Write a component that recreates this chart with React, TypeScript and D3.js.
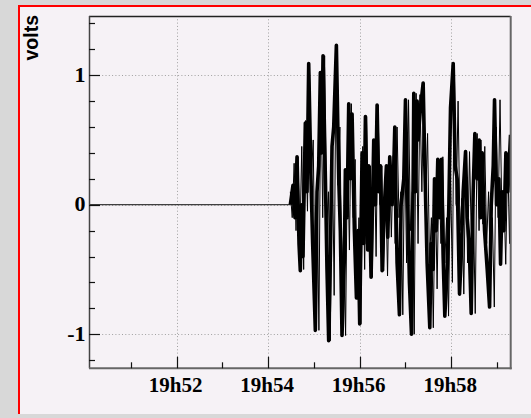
import React, { useEffect, useRef } from "react";
import * as d3 from "d3";

// time range of the frame (local time)
const day = [2000, 0, 1];
const timeStart = "19:50:05";
const timeEnd = "19:59:18";

// signal is flat (0 V) until signalStart
const signalStart = "19:54:29";

// slow wave: turning points, seconds after signalStart
const tSec = [
  0, 3.5, 6.1, 8.8, 11.4, 13.1, 14.9, 16.6, 19.7, 21.9,
  24.1, 27.1, 29.3, 32.8, 35.0, 37.2, 39.4, 41.1, 42.9, 46.0,
  48.1, 50.3, 52.5, 54.7, 56.9, 60.4, 63.5, 65.6, 67.8, 70.9,
  72.2, 74.4, 76.6, 78.8, 81.0, 84.0, 86.7, 88.8, 91.0, 94.1,
  96.3, 98.5, 101.5, 102.8, 105.9, 109.4, 111.6, 113.8, 116.0, 118.2,
  120.4, 123.4, 126.0, 127.8, 130.4, 133.5, 135.7, 137.0, 140.0, 143.1,
  145.3, 148.8, 151.0, 154.0, 156.2, 158.9, 161.1, 161.9, 164.1, 166.3,
  167.6, 170.7, 174.2, 176.4, 179.4, 182.9, 184.7, 187.3, 189.1, 191.2,
  193.4, 196.1, 198.2, 200.4, 202.6, 205.7, 207.9, 210.1, 213.6, 216.2,
  218.8, 221.9, 224.1, 226.7, 229.8, 231.9, 234.6, 237.2, 239.8, 242.0,
  245.1, 247.7, 249.5, 251.6, 254.7, 258.2, 261.3, 263.5, 266.1, 267.8,
  270.5, 273.5, 275.7, 277.9, 280.1, 282.7, 285.3, 288.8,
];
const volts = [
  0, 0.15, -0.1, 0.37, -0.3, -0.51, 0.0, -0.4, 0.63, 0.1,
  1.09, 0.2, -0.3, -0.97, 0.1, 0.3, 1.02, 0.4, 1.15, 0.2,
  -0.5, -1.05, -0.4, 0.45, 0.6, 1.23, 0.2, -0.2, -1.01, -0.4,
  0.27, -0.1, 0.78, 0.2, 0.7, -0.2, -0.72, -0.2, -0.92, 0.4,
  -0.3, 0.68, -0.35, 0.3, -0.56, 0.5, 0.0, 0.77, 0.1, 0.3,
  -0.51, 0.0, 0.3, -0.25, 0.37, 0.0, 0.3, 0.6, -0.45, -0.85,
  0.0, 0.2, 0.81, 0.0, -0.6, -1.0, 0.2, 0.86, 0.1, 0.8,
  0.5, 0.75, 0.94, 0.3, -0.45, -0.95, -0.3, -0.5, 0.2, -0.2,
  0.35, -0.1, 0.35, -0.4, -0.86, -0.5, 0.0, 0.75, 1.09, 0.3,
  0.2, -0.69, -0.4, 0.1, 0.41, -0.1, -0.3, -0.84, 0.1, 0.55,
  0.2, 0.5, -0.1, 0.4, -0.2, -0.5, -0.79, 0.0, 0.3, 0.81,
  0.0, 0.2, -0.46, 0.1, -0.2, 0.4, 0.1, 0.54,
];

// fast jitter: max / min in each 5 s column after signalStart
const stepSeconds = 5;
const hiVolts = [
  0.1, 0.32, 0.37, 0.45, 0.65, 1.09, 0.5, 0.2, 1.02, 1.15,
  0.1, 0.5, 1.23, 0.6, -0.2, 0.5, 0.78, 0.35, -0.1, 0.45,
  0.68, 0.3, 0.5, 0.77, 0.3, 0.2, 0.37, 0.38, 0.6, 0.1,
  0.5, 0.81, 0.1, 0.86, 0.85, 0.94, 0.55, -0.1, 0.2, 0.3,
  0.37, -0.1, 0.3, 1.09, 0.8, 0.05, 0.35, 0.41, 0.0, 0.55,
  0.5, 0.45, 0.1, -0.1, 0.6, 0.81, 0.1, 0.4, 0.5,
];
const loVolts = [
  -0.1, -0.2, -0.3, -0.5, -0.05, 0.2, -0.7, -0.97, -0.1, -0.2,
  -1.05, -0.7, 0.15, -0.55, -1.01, -0.35, -0.1, -0.6, -0.92, -0.5,
  -0.3, -0.56, -0.4, 0.0, -0.51, -0.55, -0.25, -0.3, -0.1, -0.85,
  -0.45, -0.2, -1.0, -0.3, 0.1, 0.05, -0.45, -0.95, -0.65, -0.3,
  -0.45, -0.86, -0.6, 0.0, -0.2, -0.69, -0.45, -0.3, -0.84, -0.2,
  -0.15, -0.3, -0.55, -0.79, -0.1, -0.1, -0.46, -0.3, -0.1,
];

const yRange = [-1.263, 1.457];
const yTitle = "volts";

const toDate = (hms: string) => {
  const [h, m, s] = hms.split(":").map(Number);
  return new Date(day[0], day[1], day[2], h, m, s);
};

const W = 531;
const H = 418;

const App: React.FC = () => {
  const ref = useRef<SVGSVGElement | null>(null);

  useEffect(() => {
    document.body.style.margin = "0";
    if (!ref.current) return;
    const svg = d3.select(ref.current);
    svg.selectAll("*").remove();

    const left = 89, top = 16, right = 510.7, bottom = 368.3;
    const bg = "#f6f2f6";

    // outer background + canvas frame
    svg.append("rect").attr("width", W).attr("height", H).attr("fill", "#d8d8d8");
    svg.append("rect").attr("x", 18).attr("y", 5).attr("width", W).attr("height", 409).attr("fill", bg);
    svg.append("rect").attr("x", 18).attr("y", 5).attr("width", 2).attr("height", 409).attr("fill", "#ff0000");
    svg.append("rect").attr("x", 18).attr("y", 5).attr("width", W).attr("height", 2).attr("fill", "#ff0000");

    const x = d3.scaleTime().domain([toDate(timeStart), toDate(timeEnd)]).range([left, right]);
    const y = d3.scaleLinear().domain(yRange).range([bottom, top]);

    const g = svg.append("g");

    // grid
    const xMajor = x.ticks(d3.timeMinute.every(2)!);
    const xMinor = x.ticks(d3.timeMinute.every(1)!);
    const yMajor = d3.ticks(yRange[0], yRange[1], 3);
    const yMinor = d3.ticks(yRange[0], yRange[1], 14);

    g.selectAll(".gx")
      .data(xMajor)
      .join("line")
      .attr("x1", (d) => Math.round(x(d)) + 0.5)
      .attr("x2", (d) => Math.round(x(d)) + 0.5)
      .attr("y1", top)
      .attr("y2", bottom)
      .attr("stroke", "#a0a0a0")
      .attr("stroke-dasharray", "1,2.3");
    g.selectAll(".gy")
      .data(yMajor)
      .join("line")
      .attr("x1", left)
      .attr("x2", right)
      .attr("y1", (d) => Math.round(y(d)) + 0.5)
      .attr("y2", (d) => Math.round(y(d)) + 0.5)
      .attr("stroke", "#a0a0a0")
      .attr("stroke-dasharray", "1,2.3");

    svg.append("clipPath").attr("id", "plotclip")
      .append("rect").attr("x", left).attr("y", top).attr("width", right - left).attr("height", bottom - top);

    const t0 = toDate(signalStart).getTime();
    const line = d3.line<[Date, number]>().x((d) => x(d[0])).y((d) => y(d[1]));

    // flat baseline
    g.append("path")
      .datum([[toDate(timeStart), 0], [new Date(t0), 0]] as [Date, number][])
      .attr("d", line)
      .attr("stroke", "#111")
      .attr("stroke-width", 1);

    // fast jitter, thin zigzag through column extremes
    const jitter: [Date, number][] = [];
    hiVolts.forEach((hi, i) => {
      jitter.push([new Date(t0 + i * stepSeconds * 1000), hi]);
      jitter.push([new Date(t0 + (i + 0.5) * stepSeconds * 1000), loVolts[i]]);
    });
    g.append("path")
      .datum(jitter)
      .attr("d", line)
      .attr("fill", "none")
      .attr("stroke", "#000")
      .attr("stroke-width", 1)
      .attr("clip-path", "url(#plotclip)");

    // slow wave, thick trace
    const wave: [Date, number][] = tSec.map((s, i) => [new Date(t0 + s * 1000), volts[i]]);
    g.append("path")
      .datum(wave)
      .attr("d", line)
      .attr("fill", "none")
      .attr("stroke", "#000")
      .attr("stroke-width", 3.6)
      .attr("stroke-linejoin", "round")
      .attr("clip-path", "url(#plotclip)");

    // frame
    g.append("line").attr("x1", left).attr("x2", right).attr("y1", top + 0.5).attr("y2", top + 0.5).attr("stroke", "#222").attr("stroke-width", 1.5);
    g.append("line").attr("x1", left + 0.5).attr("x2", left + 0.5).attr("y1", top).attr("y2", bottom).attr("stroke", "#444").attr("stroke-width", 1.5);
    g.append("line").attr("x1", right).attr("x2", right).attr("y1", top).attr("y2", bottom + 1).attr("stroke", "#666").attr("stroke-width", 2);
    g.append("line").attr("x1", left).attr("x2", right + 1).attr("y1", bottom).attr("y2", bottom).attr("stroke", "#666").attr("stroke-width", 2);

    // x ticks (inside, upward)
    g.selectAll(".txm")
      .data(xMinor)
      .join("line")
      .attr("x1", (d) => Math.round(x(d)) + 0.5)
      .attr("x2", (d) => Math.round(x(d)) + 0.5)
      .attr("y1", bottom)
      .attr("y2", (d) => bottom - (xMajor.some((m) => +m === +d) ? 11.5 : 6))
      .attr("stroke", "#111")
      .attr("stroke-width", 1.2);

    // y ticks (inside, rightward)
    g.selectAll(".tym")
      .data(yMinor)
      .join("line")
      .attr("x1", left)
      .attr("x2", (d) => left + (yMajor.some((m) => Math.abs(m - d) < 1e-9) ? 11 : 6))
      .attr("y1", (d) => Math.round(y(d)) + 0.5)
      .attr("y2", (d) => Math.round(y(d)) + 0.5)
      .attr("stroke", "#111")
      .attr("stroke-width", 1.2);

    const fmt = d3.timeFormat("%Hh%M");
    g.selectAll(".lx")
      .data(xMajor)
      .join("text")
      .attr("x", (d) => x(d) - 1)
      .attr("y", 392)
      .attr("text-anchor", "middle")
      .attr("font-family", "'Liberation Serif', 'DejaVu Serif', serif")
      .attr("font-weight", "bold")
      .attr("font-size", 21)
      .attr("fill", "#000")
      .text((d) => fmt(d));

    g.selectAll(".ly")
      .data(yMajor)
      .join("text")
      .attr("x", 85.5)
      .attr("y", (d) => y(d) + 6.5)
      .attr("text-anchor", "end")
      .attr("font-family", "'Liberation Serif', 'DejaVu Serif', serif")
      .attr("font-weight", "bold")
      .attr("font-size", 22)
      .attr("fill", "#000")
      .text((d) => String(d));

    svg.append("text")
      .attr("transform", `translate(37.5, ${top - 1}) rotate(-90)`)
      .attr("text-anchor", "end")
      .attr("font-family", "'Liberation Sans', Arial, sans-serif")
      .attr("font-weight", "bold")
      .attr("font-size", 19.5)
      .attr("fill", "#000")
      .text(yTitle);
  }, []);

  return <svg ref={ref} width={W} height={H} style={{ display: "block" }} />;
};

export default App;
